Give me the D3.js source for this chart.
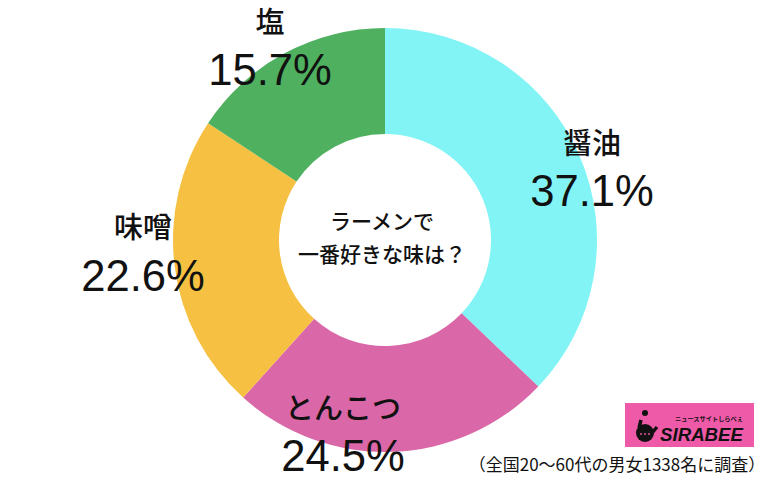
<!DOCTYPE html>
<html><head><meta charset="utf-8"><style>html,body{margin:0;background:#fff}svg{display:block}text{font-family:"Noto Sans CJK JP","Liberation Sans",sans-serif}</style>
<script src="https://cdn.jsdelivr.net/npm/d3@7"></script></head><body><script>
const categories=["醤油","とんこつ","味噌","塩"];
const values=[37.1,24.5,22.6,15.7];
const colors=["#82f4f6","#da67a7","#f6c142","#4fb05f"];
const center=["ラーメンで","一番好きな味は？"];
const labelX=[592,343,143,270],nameY=[154,419,238,33],pctY=[206,471,291,85];
const note="（全国20〜60代の男女1338名に調査）";
const svg=d3.select("body").append("svg").attr("width",768).attr("height",483);
const pie=d3.pie().sort(null).value(d=>d)(values);
const arc=d3.arc().innerRadius(106).outerRadius(212);
const g=svg.append("g").attr("transform","translate(385,240)");
g.selectAll("path").data(pie).join("path").attr("d",arc).attr("fill",(d,i)=>colors[i]);
categories.forEach((c,i)=>{
 svg.append("text").attr("x",labelX[i]).attr("y",nameY[i]).attr("text-anchor","middle").attr("font-size",29).attr("font-weight",500).attr("fill","#111").text(c);
 svg.append("text").attr("x",labelX[i]).attr("y",pctY[i]).attr("text-anchor","middle").attr("font-size",43.6).attr("fill","#111").style("font-family","'Liberation Sans',sans-serif").text(values[i].toFixed(1)+"%");
});
center.forEach((t,i)=>svg.append("text").attr("x",382).attr("y",[229,262][i]).attr("text-anchor","middle").attr("font-size",21).attr("font-weight",500).attr("fill","#111").text(t));
svg.append("text").attr("x",617).attr("y",471).attr("text-anchor","middle").attr("font-size",17).attr("fill","#111").text(note);
const lg=svg.append("g");
lg.append("rect").attr("x",625).attr("y",403).attr("width",129).attr("height",44).attr("fill","#ee5aa8");
lg.append("text").attr("x",660).attr("y",441).attr("font-size",18).attr("font-weight",900).attr("font-style","italic").attr("fill","#111").style("font-family","'Liberation Sans',sans-serif").attr("textLength",83).attr("lengthAdjust","spacingAndGlyphs").text("SIRABEE");
lg.append("text").attr("x",675).attr("y",421).attr("font-size",6).attr("font-weight",700).attr("fill","#111").attr("textLength",68).attr("lengthAdjust","spacingAndGlyphs").text("ニュースサイトしらべぇ");
lg.append("circle").attr("cx",645).attr("cy",433).attr("r",9).attr("fill","#111");
lg.append("circle").attr("cx",645).attr("cy",413).attr("r",3).attr("fill","#111");
lg.append("path").attr("d",d3.line()([[641,420],[639,428]])).attr("stroke","#111").attr("stroke-width",3.5).attr("fill","none");
lg.append("path").attr("d",d3.line()([[652,433],[657,427]])).attr("stroke","#111").attr("stroke-width",3.5).attr("fill","none");
[641,645,649].forEach(x=>lg.append("circle").attr("cx",x).attr("cy",434).attr("r",0.9).attr("fill","#ee5aa8"));
</script></body></html>
